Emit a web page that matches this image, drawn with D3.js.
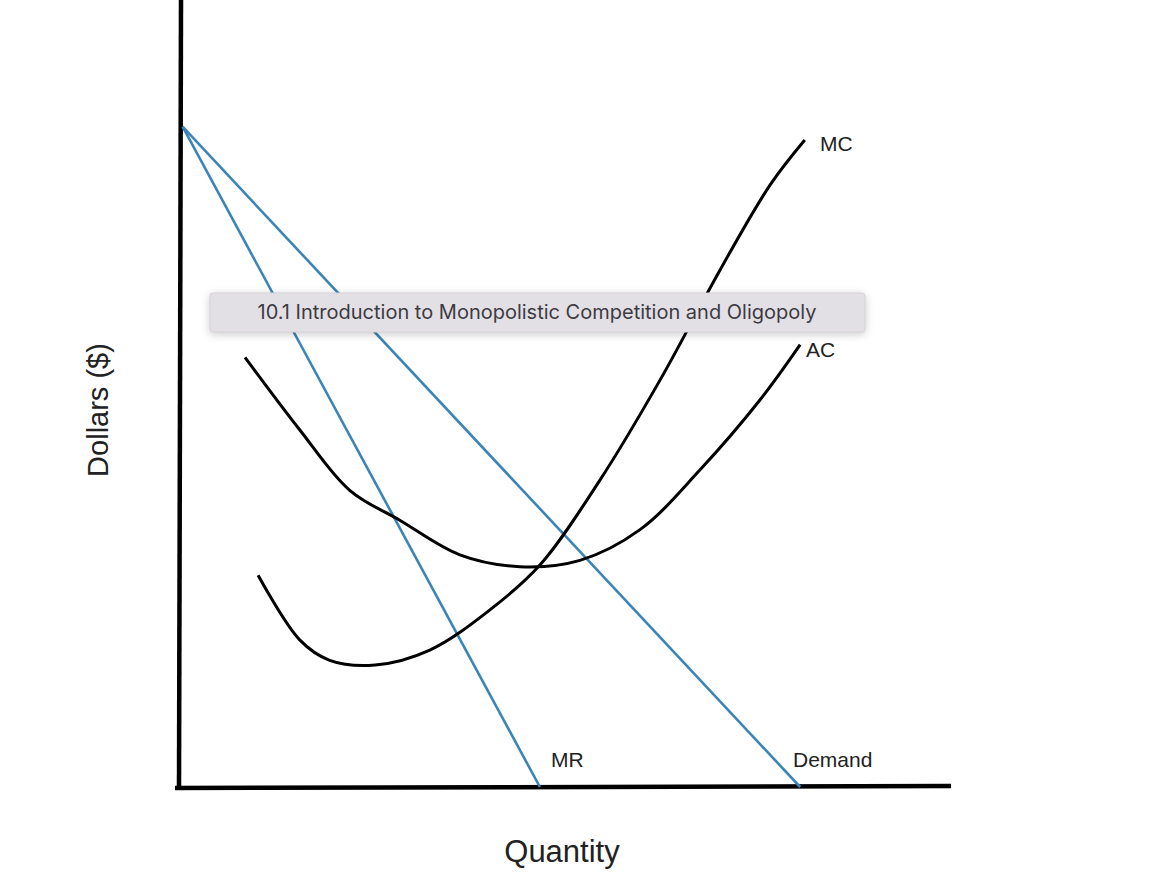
<!DOCTYPE html>
<html><head><meta charset="utf-8">
<script src="https://cdn.jsdelivr.net/npm/d3@7"></script>
<style>body{margin:0;background:#fff}</style>
</head><body>
<svg id="chart" width="1170" height="896"></svg>
<script>
// curve points (quantity, dollars)
const demandPts = [[0.06, 8.39], [8.08, 0]]
const mrPts = [[0.06, 8.39], [4.7, 0]]
const acPts = [[0.87,5.46],[1.58,4.54],[2.23,3.77],[2.88,3.39],[3.66,2.95],[4.44,2.8],[5.22,2.88],[6.0,3.27],[6.78,4.03],[7.56,4.92],[8.08,5.62]]
const mcPts = [[1.04,2.69],[1.58,1.87],[1.97,1.61],[2.56,1.55],[3.27,1.74],[4.05,2.25],[4.7,2.82],[5.48,3.9],[6.26,5.17],[7.04,6.57],[7.69,7.65],[8.14,8.22]]

const svg = d3.select('#chart')
const x = d3.scaleLinear().domain([0, 10]).range([178, 948])
const y = d3.scaleLinear().domain([0, 10]).range([787, 0])
const line = d3.line().x(d => x(d[0])).y(d => y(d[1])).curve(d3.curveCatmullRom)

// axes
svg.append('line').attr('x1', 181).attr('x2', 179).attr('y1', 0).attr('y2', 789)
    .attr('stroke', '#000').attr('stroke-width', 4.5)
svg.append('line').attr('x1', 175).attr('x2', 951).attr('y1', 788).attr('y2', 786)
    .attr('stroke', '#000').attr('stroke-width', 4.5)

const blue = '#3a85b8'
svg.append('path').attr('d', line(demandPts)).attr('fill', 'none').attr('stroke', blue).attr('stroke-width', 2.6)
svg.append('path').attr('d', line(mrPts)).attr('fill', 'none').attr('stroke', blue).attr('stroke-width', 2.6)
svg.append('path').attr('d', line(acPts)).attr('fill', 'none').attr('stroke', '#000').attr('stroke-width', 3)
svg.append('path').attr('d', line(mcPts)).attr('fill', 'none').attr('stroke', '#000').attr('stroke-width', 3)

const lab = (t, px, py, size) => svg.append('text').attr('x', px).attr('y', py)
    .attr('font-family', 'Liberation Sans, Arial, sans-serif').attr('font-size', size).attr('fill', '#222').text(t)
lab('MC', 820, 151, 21)
lab('AC', 806, 357, 21)
lab('MR', 551, 767, 21)
lab('Demand', 793, 767, 21)
lab('Quantity', 562, 862, 31).attr('text-anchor', 'middle')
svg.append('text').attr('transform', 'translate(108,410) rotate(-90)').attr('text-anchor', 'middle')
    .attr('font-family', 'Liberation Sans, Arial, sans-serif').attr('font-size', 29).attr('fill', '#222').text('Dollars ($)')

// tooltip-like caption
const tip = svg.append('g')
tip.append('rect').attr('x', 210).attr('y', 293).attr('width', 655).attr('height', 39).attr('rx', 3)
    .attr('fill', '#e3e0e5').attr('stroke', '#d6d3d8').style('filter', 'drop-shadow(0 2px 4px rgba(0,0,0,0.2))')
tip.append('text').attr('x', 537).attr('y', 319).attr('text-anchor', 'middle')
    .attr('font-family', 'Inter, Roboto, sans-serif').attr('font-size', 20).attr('fill', '#3c3b42')
    .text('10.1 Introduction to Monopolistic Competition and Oligopoly')
</script>
</body></html>
